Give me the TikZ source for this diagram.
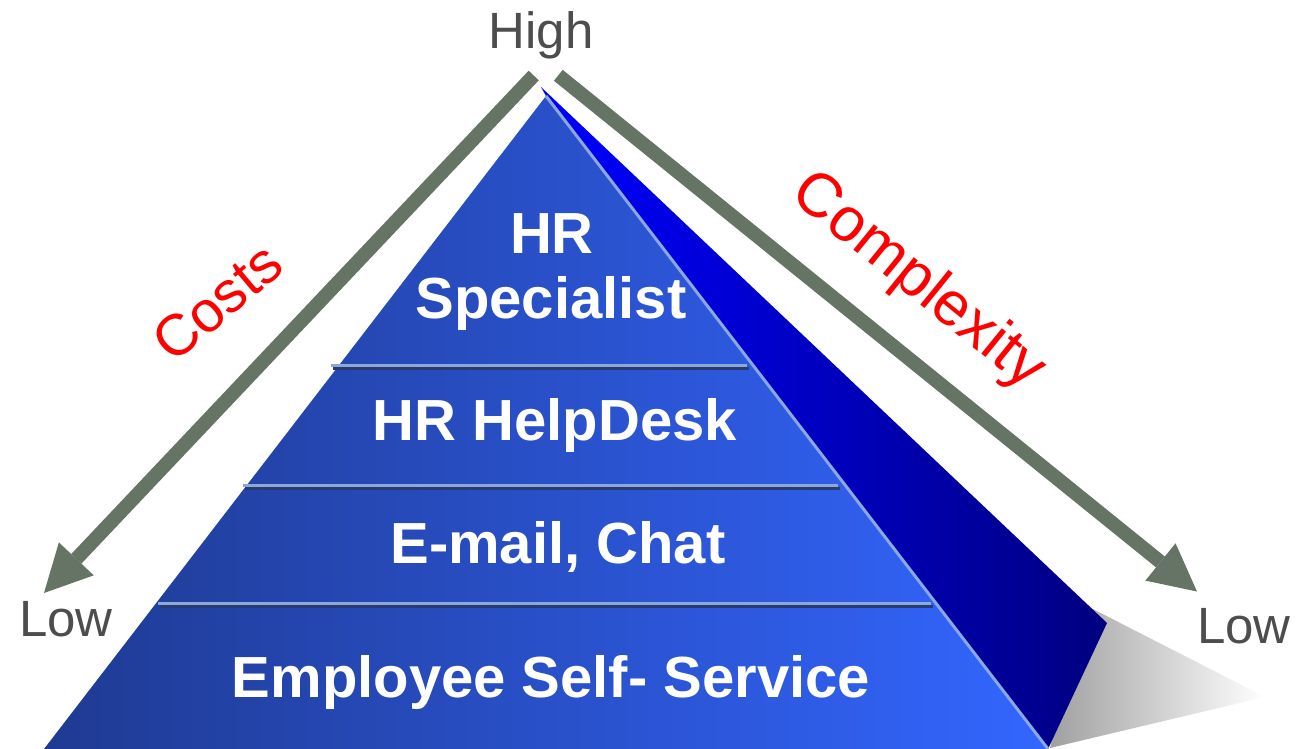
\documentclass[tikz,border=0pt]{standalone}
\usepackage{fontspec}
\setmainfont{Liberation Sans}
\usetikzlibrary{arrows.meta}

\definecolor{arrowgray}{RGB}{102,116,101}
\definecolor{axistext}{RGB}{77,77,77}
\definecolor{faceleft}{RGB}{31,58,146}
\definecolor{faceright}{RGB}{51,102,255}
\definecolor{sidetop}{RGB}{0,0,255}
\definecolor{sidebottom}{RGB}{0,0,128}
\definecolor{edgelight}{RGB}{138,168,220}
\definecolor{stepdark}{RGB}{40,58,110}
\definecolor{shadowgray}{RGB}{160,160,160}

\tikzset{
  axisarrow/.style={draw=arrowgray, line width=14pt, line cap=butt,
    -{Triangle[length=47pt,width=48pt,line width=0pt]}},
  axislabel/.style={text=axistext, font=\fontsize{51}{60}\selectfont, inner sep=0pt, anchor=base},
  trendlabel/.style={text=red, inner sep=0pt},
  levellabel/.style={text=white, font=\bfseries\fontsize{58}{66}\selectfont, inner sep=0pt, anchor=base},
  steplight/.style={draw=edgelight, line width=3pt},
  stepshade/.style={draw=stepdark, line width=3pt},
}

\begin{document}
\begin{tikzpicture}[x=1pt,y=-1pt]
\useasboundingbox (0,0) rectangle (1307,749);

% corners of the pyramid
\coordinate (apexback) at (541,87);
\coordinate (apex) at (546,96);
\coordinate (baseleft) at (44,749);
\coordinate (baseright) at (1048,749);
\coordinate (backcorner) at (1107,623);

% cast shadow on the right
\shade[left color=shadowgray, right color=white]
  (1085,605) -- (1265,697) -- (1050,748) -- cycle;

% side face
\shade[left color=sidetop, right color=sidebottom]
  (apexback) -- (backcorner) -- (baseright) -- (apex) -- cycle;

% front face
\shade[left color=faceleft, right color=faceright]
  (apex) -- (baseleft) -- (baseright) -- cycle;

% level dividers
\draw[stepshade] (333,368) -- (749,368);
\draw[steplight] (331,365) -- (747,365);
\draw[stepshade] (245,488) -- (840,488);
\draw[steplight] (243,485) -- (838,485);
\draw[stepshade] (160,606) -- (933,606);
\draw[steplight] (158,603) -- (931,603);

% highlighted front edge
\draw[edgelight, line width=3pt] (apex) -- (baseright);

% axis arrows
\coordinate (costtop) at (533.7,75.5);
\coordinate (costlow) at (44,593);
\coordinate (cplxtop) at (558.3,75.3);
\coordinate (cplxlow) at (1197,591.5);
\draw[axisarrow] (costtop) -- (costlow);
\draw[axisarrow] (cplxtop) -- (cplxlow);

% axis texts
\node[axislabel] (high) at (541,49) {High};
\node[axislabel] (lowleft) at (66,636) {Low};
\node[axislabel] (lowright) at (1244,643) {Low};

\node[trendlabel, font=\fontsize{58}{66}\selectfont, rotate=40] (costs) at (217,302) {Costs};
\node[trendlabel, font=\fontsize{62}{70}\selectfont, rotate=-39] (complexity) at (918,282) {Complexity};

% level texts
\node[levellabel] (hr) at (552,253) {HR};
\node[levellabel] (specialist) at (551,318) {Specialist};
\node[levellabel] (helpdesk) at (555,440) {HR HelpDesk};
\node[levellabel] (email) at (558,563) {E-mail, Chat};
\node[levellabel] (selfservice) at (551,697) {Employee Self- Service};
\end{tikzpicture}
\end{document}
